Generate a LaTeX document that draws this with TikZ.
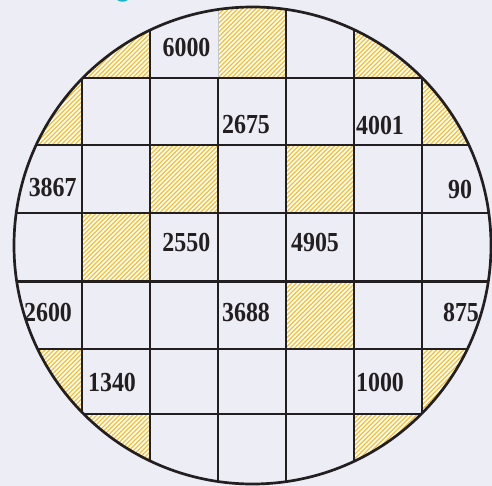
\documentclass[tikz,border=0pt]{standalone}
\usepackage{fontspec}
\setmainfont[FakeStretch=0.87]{Liberation Serif}
\definecolor{bg}{RGB}{237,237,246}
\definecolor{hatchc}{RGB}{249,190,48}
\definecolor{ink}{RGB}{35,31,32}
\definecolor{cyanc}{RGB}{20,182,204}
\begin{document}
\begin{tikzpicture}[x=1pt,y=-1pt,
  gridline/.style={ink, line width=2.3pt},
  faintline/.style={gray!45, line width=1pt},
  rim/.style={ink, line width=2.7pt},
  hatchline/.style={hatchc, line width=1.1pt},
  num/.style={inner sep=0pt, font=\fontsize{27.5}{30}\selectfont\bfseries, text=ink}]
\fill[bg] (0,0) rectangle (492,486);
\useasboundingbox (0,0) rectangle (492,486);
% cyan fragment at the top edge
\begin{scope}
  \clip (0,0) rectangle (492,486);
  \fill[cyanc] (122.5,-2.5) ellipse [x radius=6.5, y radius=4.2];
\end{scope}
\coordinate (O) at (252.5,245.5);
% hatched cells
\begin{scope}
  \clip (O) circle[radius=238.5];
  \clip (82,0) rectangle (150,78) (218,0) rectangle (286,78) (354,0) rectangle (422,78)
        (0,78) rectangle (82,145) (422,78) rectangle (492,145)
        (150,145) rectangle (218,213) (286,145) rectangle (354,213)
        (82,213) rectangle (150,281.5)
        (286,281.5) rectangle (354,349)
        (0,349) rectangle (82,414) (422,349) rectangle (492,414)
        (82,414) rectangle (150,486) (354,414) rectangle (422,486);
  \fill[white] (0,0) rectangle (492,486);
  \foreach \c in {-500,-495.5,...,500}
    \draw[hatchline] (\c,490) -- ++(490,-490);
\end{scope}
% grid
\begin{scope}
  \clip (O) circle[radius=238.5];
  \foreach \x in {82,150,286,354,422}
    \draw[gridline] (\x,0) -- (\x,486);
  \draw[faintline] (218,0) -- (218,78);
  \draw[gridline] (218,78) -- (218,486);
  \foreach \y in {78,145,213,281.5,349,414}
    \draw[gridline] (0,\y) -- (492,\y);
\end{scope}
\draw[rim] (O) circle[radius=238.5];
% numbers
\node[num] (n6000) at (186.5,47.5) {6000};
\node[num] (n2675) at (246,125) {2675};
\node[num] (n4001) at (380,125) {4001};
\node[num] (n3867) at (52.7,187.5) {3867};
\node[num] (n90)   at (460,189) {90};
\node[num] (n2550) at (186.4,242) {2550};
\node[num] (n4905) at (315,242) {4905};
\node[num] (n2600) at (48,312) {2600};
\node[num] (n3688) at (246,312) {3688};
\node[num] (n875)  at (461,312) {875};
\node[num] (n1340) at (112,382) {1340};
\node[num] (n1000) at (380,382) {1000};
\end{tikzpicture}
\end{document}
